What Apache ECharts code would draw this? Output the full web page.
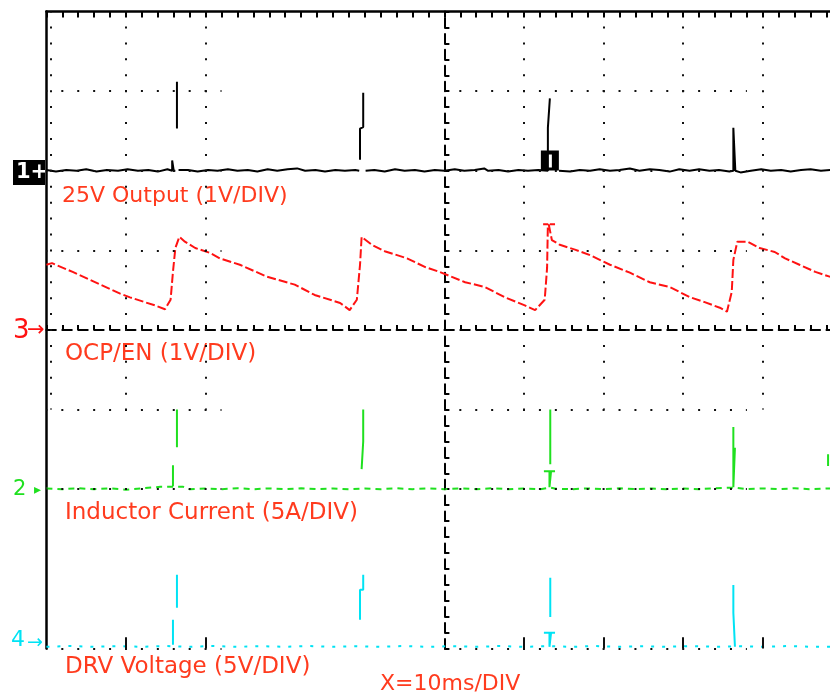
<!DOCTYPE html>
<html><head><meta charset="utf-8">
<script src="https://cdn.jsdelivr.net/npm/echarts@6/dist/echarts.min.js"></script>
<style>html,body{margin:0;padding:0;background:#fff}#c{width:830px;height:693px}</style>
</head><body><div id="c"></div>
<script>
// ---------- DATA (time in ms, 10 ms/div) ----------
// CH1: 25V output ripple, V (1 V/div)
const outputRipple = [
 [0,0.01],[1.2,-0.01],[2.5,0.01],[3.8,0.0],[5.0,0.02],[6.3,-0.01],[7.6,0.01],[9.0,0.0],[10.2,0.02],[11.5,0.0],[12.8,0.01],[14.0,-0.01],[15.2,0.02],[15.8,0.0],[15.8,0.13],[16.0,0.13],[16.0,0.0],[16.2,0.0],[16.3,'-'],
 [16.4,0.53],[16.4,1.12],[16.5,'-'],
 [16.6,0.01],[17.8,0.01],[19.0,-0.01],[20.3,0.01],[21.5,0.0],[22.8,0.02],[24.0,0.0],[25.3,0.01],[26.5,-0.01],[27.8,0.02],[29.0,0.0],[30.3,0.02],[31.5,0.03],[32.5,0.0],[33.8,0.01],[35.0,-0.01],[36.3,0.01],[37.5,0.0],[38.8,0.01],[39.3,0.0],[39.35,'-'],
 [39.4,0.14],[39.4,0.53],[39.8,0.55],[39.8,0.98],[39.9,'-'],
 [40.1,0.0],[41.2,0.01],[42.5,-0.01],[43.8,0.02],[45.0,0.0],[46.3,0.01],[47.5,-0.01],[48.8,0.01],[50.0,0.0],[51.3,0.02],[52.5,0.0],[53.8,0.01],[55.0,0.03],[55.5,0.0],[56.8,0.01],[58.0,-0.01],[59.3,0.01],[60.5,0.0],[61.8,0.01],[63.0,0.0],[63.0,0.54],[63.25,0.54],[63.25,0.91],[63.4,'-'],
 [64.4,0.0],[65.8,-0.01],[67.0,0.01],[68.3,0.0],[69.5,0.02],[70.8,0.0],[72.0,0.01],[73.3,0.03],[74.5,0.0],[75.8,0.02],[77.0,0.01],[78.3,-0.01],[79.5,0.02],[80.8,0.0],[82.0,0.02],[83.3,0.0],[84.5,0.01],[85.8,-0.01],[86.3,0.0],[86.3,0.54],[86.55,0.52],[86.55,0.0],[87.2,-0.02],[88.5,0.0],[89.8,0.02],[91.0,0.0],[92.3,0.01],[93.5,-0.01],[94.8,0.01],[96.0,0.02],[97.3,0.0],[98.5,0.01],[100,0.0]
];
const triggerMark = [63.25, 0.13];
// CH3: OCP/EN, V (1 V/div)
const ocpEn = [
 [0,0.82],[0.7,0.84],[3.3,0.73],[5.5,0.63],[9.2,0.46],[10.5,0.41],[13.6,0.31],[14.9,0.26],[15.6,0.38],[15.9,0.73],[16.2,1.03],[16.7,1.17],[17.4,1.11],[18.7,1.03],[20.5,0.97],[21.8,0.90],[24.3,0.82],[27.7,0.67],[31.2,0.57],[33.7,0.44],[36.9,0.34],[38.1,0.25],
 [39.0,0.38],[39.4,0.82],[39.6,1.17],[40.9,1.07],[42.5,0.99],[45.3,0.90],[47.6,0.79],[49.4,0.73],[52.6,0.60],[55.1,0.54],[57.6,0.41],[60.1,0.31],[61.4,0.25],
 [62.6,0.38],[62.9,0.78],[63.0,1.33],[62.4,1.33],[63.9,1.33],[63.1,1.33],[63.5,1.13],[64.5,1.07],[66.4,1.01],[68.3,0.94],[70.8,0.82],[73.3,0.72],[75.8,0.60],[78.3,0.54],[80.9,0.41],[82.7,0.35],[84.6,0.28],[85.5,0.23],
 [86.1,0.48],[86.3,0.88],[86.8,1.11],[88.1,1.11],[89.6,1.03],[91.5,0.98],[92.8,0.90],[94.6,0.82],[96.6,0.73],[98.4,0.67],[100,0.62]
];
// CH2: inductor current, A (5 A/div)
const inductorBase = [
 [0,0.05],[2,0],[4,0.06],[6,0],[8,0.05],[10,-0.03],[12,0.05],[14.3,0.15],[15.9,0.15],[17.2,0.15],[18,0.0],[20,0.05],[22,0],[24,0.06],[26,0],[28,0.05],[30,0],[32,0.06],[34,0],[36,0.04],[38,0],[40,0.05],[42,0],[44,0.06],[46,0],[48,0.05],[50,0],[52,0.05],[54,0],[56,0.06],[58,0],[60,0.05],[62,0],[63.3,0.1],[64,0.03],[66,0],[68,0.05],[70,0],[72,0.06],[74,0],[76,0.04],[78,0],[80,0.05],[82,0],[84,0.06],[86.4,0.1],[88,0],[90,0.05],[92,0],[94,0.06],[96,0],[98,0.05],[100,0]
];
const inductorSpikes = [
 [15.9,0.19],[15.9,1.51],[16.0,'-'],
 [16.4,2.64],[16.4,5.0],[16.5,'-'],
 [39.8,5.0],[39.8,3.0],[39.6,3.0],[39.6,1.26],[39.9,'-'],
 [63.3,5.0],[63.3,1.57],[63.4,'-'],
 [62.5,1.13],[63.9,1.13],[63.95,'-'],
 [63.2,1.13],[63.2,0.13],[63.4,0.13],[63.4,1.13],[63.5,'-'],
 [86.3,3.9],[86.3,0.13],[86.5,0.13],[86.5,2.6],[86.6,'-'],
 [98.2,1.45],[98.2,2.2]
];
// CH4: DRV voltage, V (5 V/div)
const drvBase = [
 [0,0],[3,0.05],[6,0],[9,0.04],[12,0],[15,0.05],[18,0],[21,0.05],[24,0],[27,0.04],[30,0],[33,0.05],[36,0],[39,0.04],[42,0],[45,0.05],[48,0],[51,0.04],[54,0],[57,0.05],[60,0],[63,0.04],[66,0],[69,0.05],[72,0],[75,0.04],[78,0],[81,0.05],[84,0],[87,0.04],[90,0],[93,0.05],[96,0],[100,0]
];
const drvSpikes = [
 [15.9,0.13],[15.9,1.70],[16.0,'-'],
 [16.4,2.45],[16.4,4.52],[16.5,'-'],
 [39.8,4.52],[39.8,3.58],[39.4,3.58],[39.4,1.70],[39.5,'-'],
 [63.3,4.33],[63.3,1.88],[63.4,'-'],
 [62.5,0.88],[63.9,0.88],[63.95,'-'],
 [63.2,0.88],[63.2,0.0],[63.4,0.0],[63.4,0.88],[63.5,'-'],
 [86.3,3.89],[86.3,2.14],[86.5,2.14],[86.5,0.0]
];
// graticule divisions
const timeDivLines = [0.6, 10, 20, 60, 70, 80, 90];
const levelDivLines = [3, 2, 1, -1, -2, -4];
const levelDivSpans = [[0, 22], [50, 88]];
const channelTitles = ['25V Output (1V/DIV)', 'OCP/EN (1V/DIV)', 'Inductor Current (5A/DIV)', 'DRV Voltage (5V/DIV)'];
const timebaseText = 'X=10ms/DIV';

// ---------- CHART ----------
const BLACK = '#000', RED = '#ff1212', GREEN = '#1fe01f', CYAN = '#00e3f4', TXT = '#ff3b1e';
const dotted = { color: '#111', width: 2, type: [2, 13.92], dashOffset: 1, cap: 'butt' };
const gridLines = [];
timeDivLines.forEach(t => gridLines.push([{ coord: [t, 4], lineStyle: dotted }, { coord: [t, -1] }]));
levelDivLines.forEach(v => levelDivSpans.forEach(s => gridLines.push([{ coord: [s[0], v], lineStyle: dotted }, { coord: [s[1], v] }])));
timeDivLines.slice(1).forEach(t => gridLines.push([{ coord: [t, -3.86], lineStyle: { color: '#111', width: 2, type: 'solid' } }, { coord: [t, -4] }]));

const hidden = { show: false };
const noZero = { onZero: false };
const chart = echarts.init(document.getElementById('c'));
chart.setOption({
  animation: false,
  backgroundColor: '#fff',
  textStyle: { fontFamily: 'DejaVu Sans' },
  grid: { left: 46.4, top: 11.6, width: 796, height: 636.8, containLabel: false, outerBoundsMode: 'none' },
  xAxis: [
    { type: 'value', min: 0, max: 100, interval: 10, position: 'top',
      axisLine: { show: true, onZero: false, lineStyle: { color: BLACK, width: 2.5 } },
      axisTick: { show: true, inside: true, length: 6, lineStyle: { color: BLACK, width: 2 } },
      minorTick: { show: true, splitNumber: 5, length: 6, lineStyle: { color: BLACK, width: 2 } },
      axisLabel: hidden, splitLine: hidden },
    { type: 'value', min: 0, max: 100, interval: 10, position: 'bottom',
      axisLine: { show: true, onZero: true, onZeroAxisIndex: 1, lineStyle: { color: BLACK, width: 2, type: [9.5, 6.42] } },
      axisTick: { show: true, inside: true, length: 5, lineStyle: { color: BLACK, width: 2 } },
      minorTick: { show: true, splitNumber: 5, length: 5, lineStyle: { color: BLACK, width: 2 } },
      axisLabel: hidden, splitLine: hidden },
    { type: 'value', min: -50, max: 50, show: false, axisLine: noZero, splitLine: hidden }
  ],
  yAxis: [
    { type: 'value', min: -6, max: 2, interval: 1, position: 'left',
      axisLine: { show: true, onZero: false, lineStyle: { color: BLACK, width: 2.5 } },
      axisTick: hidden, axisLabel: hidden, splitLine: hidden },
    { type: 'value', min: -4, max: 4, show: false, axisLine: noZero, splitLine: hidden },
    { type: 'value', min: -10, max: 30, show: false, axisLine: noZero, splitLine: hidden },
    { type: 'value', min: -0.1, max: 39.9, show: false, axisLine: noZero, splitLine: hidden },
    { type: 'value', min: -4, max: 4, interval: 1, position: 'left',
      axisLine: { show: true, onZero: true, onZeroAxisIndex: 2, lineStyle: { color: BLACK, width: 2, type: [9.5, 6.42] } },
      axisTick: { show: true, inside: true, length: 5, lineStyle: { color: BLACK, width: 2 } },
      minorTick: { show: true, splitNumber: 5, length: 5, lineStyle: { color: BLACK, width: 2 } },
      axisLabel: hidden, splitLine: hidden }
  ],
  series: [
    { name: 'graticule', type: 'line', xAxisIndex: 0, yAxisIndex: 1, data: [], silent: true,
      markLine: { silent: true, symbol: ['none', 'none'], label: { show: false }, animation: false, data: gridLines } },
    { name: 'CH1', type: 'line', xAxisIndex: 0, yAxisIndex: 0, data: outputRipple, showSymbol: false, silent: true,
      lineStyle: { color: BLACK, width: 2 }, connectNulls: false,
      markPoint: { silent: true, symbol: 'path://M0,0H18V20H0Z M7,4V17H11V4Z', symbolSize: [18, 20],
        itemStyle: { color: BLACK }, label: { show: false }, data: [{ coord: triggerMark }] } },
    { name: 'CH3', type: 'line', xAxisIndex: 0, yAxisIndex: 1, data: ocpEn, showSymbol: false, silent: true,
      lineStyle: { color: RED, width: 2, type: [9, 3] } },
    { name: 'CH2 base', type: 'line', xAxisIndex: 0, yAxisIndex: 2, data: inductorBase, showSymbol: false, silent: true,
      lineStyle: { color: GREEN, width: 2, type: [6, 5] } },
    { name: 'CH2 spikes', type: 'line', xAxisIndex: 0, yAxisIndex: 2, data: inductorSpikes, showSymbol: false, silent: true,
      lineStyle: { color: GREEN, width: 2 }, connectNulls: false },
    { name: 'CH4 base', type: 'line', xAxisIndex: 0, yAxisIndex: 3, data: drvBase, showSymbol: false, silent: true,
      lineStyle: { color: CYAN, width: 2, type: [3, 8] } },
    { name: 'CH4 spikes', type: 'line', xAxisIndex: 0, yAxisIndex: 3, data: drvSpikes, showSymbol: false, silent: true,
      lineStyle: { color: CYAN, width: 2 }, connectNulls: false }
  ],
  graphic: [
    { type: 'text', x: 62, y: 196, style: { text: channelTitles[0], font: '22px "DejaVu Sans"', fill: TXT, verticalAlign: 'middle' } },
    { type: 'text', x: 65, y: 354, style: { text: channelTitles[1], font: '23px "DejaVu Sans"', fill: TXT, verticalAlign: 'middle' } },
    { type: 'text', x: 65, y: 513, style: { text: channelTitles[2], font: '23px "DejaVu Sans"', fill: TXT, verticalAlign: 'middle' } },
    { type: 'text', x: 65, y: 667, style: { text: channelTitles[3], font: '23px "DejaVu Sans"', fill: TXT, verticalAlign: 'middle' } },
    { type: 'text', x: 380, y: 684, style: { text: timebaseText, font: '22px "DejaVu Sans"', fill: TXT, verticalAlign: 'middle' } },
    { type: 'rect', shape: { x: 13, y: 160, width: 32, height: 25 }, style: { fill: BLACK } },
    { type: 'text', x: 16, y: 173, style: { text: '1+', font: 'bold 21px "DejaVu Sans"', fill: '#fff', verticalAlign: 'middle' } },
    { type: 'text', x: 13, y: 331, style: { text: '3', font: '26px "DejaVu Sans"', fill: RED, verticalAlign: 'middle' } },
    { type: 'text', x: 27, y: 331, style: { text: '→', font: '21px "DejaVu Sans"', fill: RED, verticalAlign: 'middle' } },
    { type: 'text', x: 13, y: 490, style: { text: '2', font: '21px "DejaVu Sans"', fill: GREEN, verticalAlign: 'middle' } },
    { type: 'text', x: 34, y: 490, style: { text: '▸', font: '14px "DejaVu Sans"', fill: GREEN, verticalAlign: 'middle' } },
    { type: 'text', x: 11, y: 640, style: { text: '4', font: '22px "DejaVu Sans"', fill: CYAN, verticalAlign: 'middle' } },
    { type: 'text', x: 27, y: 643, style: { text: '→', font: '19px "DejaVu Sans"', fill: CYAN, verticalAlign: 'middle' } }
  ]
});
</script>
</body></html>
